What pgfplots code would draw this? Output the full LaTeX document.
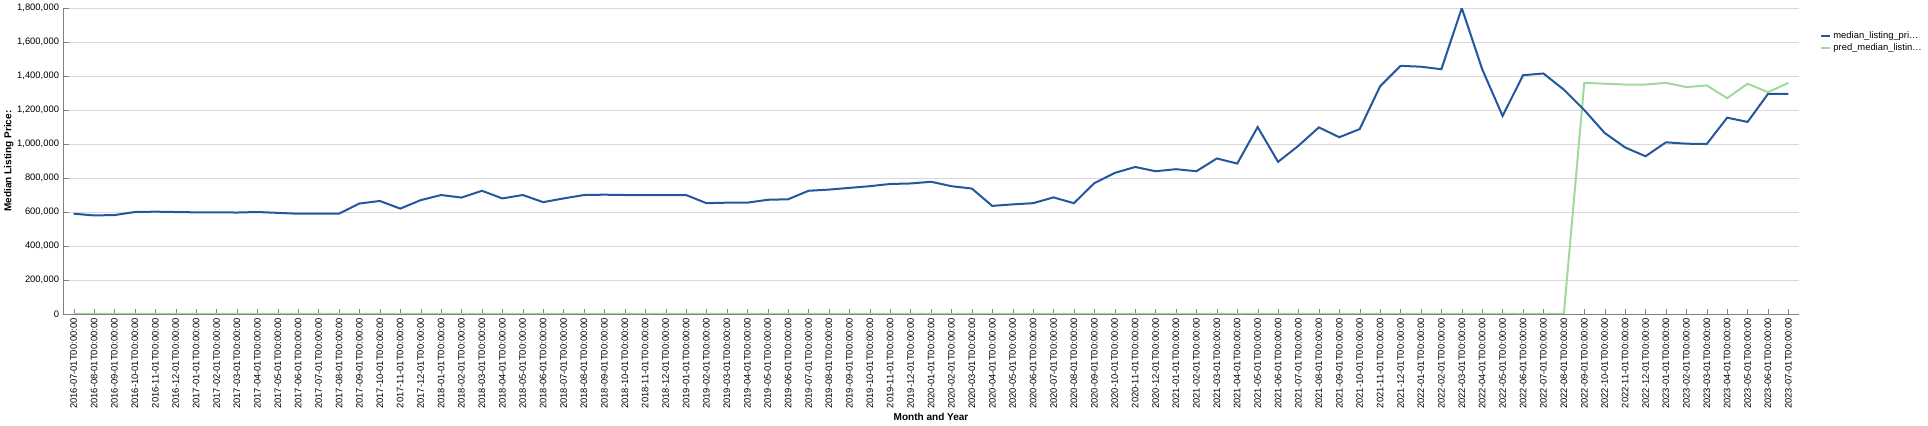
\documentclass[border=0pt]{standalone}
\usepackage{pgfplots}
\pgfplotsset{compat=1.18}
\usepackage{pgfplotstable}
\usepackage{fontspec}
\setmainfont{Liberation Sans}
\pgfplotstableread{
y
590000
580000
582000
600000
602000
600000
598000
598000
597000
600000
595000
590000
590000
590000
650000
665000
620000
670000
700000
685000
725000
680000
700000
658000
680000
700000
702000
700000
700000
700000
700000
652000
655000
655000
672000
675000
725000
732000
742000
752000
765000
768000
778000
752000
738000
636000
645000
652000
686000
652000
770000
830000
865000
840000
852000
840000
915000
885000
1100000
895000
990000
1098000
1040000
1088000
1340000
1460000
1455000
1440000
1800000
1440000
1165000
1405000
1415000
1320000
1200000
1065000
980000
928000
1010000
1002000
1000000
1155000
1130000
1295000
1295000
}\actual
\pgfplotstableread{
x y
0 0
73 0
74 1360000
75 1355000
76 1350000
77 1350000
78 1360000
79 1335000
80 1345000
81 1270000
82 1355000
83 1305000
84 1360000
}\pred
\definecolor{blueL}{HTML}{24579E}
\definecolor{greenL}{HTML}{A1D99B}
\def\L#1#2{#1-#2-01T00:00:00}
\begin{document}
\begin{tikzpicture}
\begin{axis}[
  width=1384pt, height=244pt, scale only axis,
  xmin=-0.5, xmax=84.5, ymin=0, ymax=1800000,
  xtick={0,...,84},
  xticklabels={\L{2016}{07},\L{2016}{08},\L{2016}{09},\L{2016}{10},\L{2016}{11},\L{2016}{12},
  \L{2017}{01},\L{2017}{02},\L{2017}{03},\L{2017}{04},\L{2017}{05},\L{2017}{06},\L{2017}{07},\L{2017}{08},\L{2017}{09},\L{2017}{10},\L{2017}{11},\L{2017}{12},
  \L{2018}{01},\L{2018}{02},\L{2018}{03},\L{2018}{04},\L{2018}{05},\L{2018}{06},\L{2018}{07},\L{2018}{08},\L{2018}{09},\L{2018}{10},\L{2018}{11},\L{2018}{12},
  \L{2019}{01},\L{2019}{02},\L{2019}{03},\L{2019}{04},\L{2019}{05},\L{2019}{06},\L{2019}{07},\L{2019}{08},\L{2019}{09},\L{2019}{10},\L{2019}{11},\L{2019}{12},
  \L{2020}{01},\L{2020}{02},\L{2020}{03},\L{2020}{04},\L{2020}{05},\L{2020}{06},\L{2020}{07},\L{2020}{08},\L{2020}{09},\L{2020}{10},\L{2020}{11},\L{2020}{12},
  \L{2021}{01},\L{2021}{02},\L{2021}{03},\L{2021}{04},\L{2021}{05},\L{2021}{06},\L{2021}{07},\L{2021}{08},\L{2021}{09},\L{2021}{10},\L{2021}{11},\L{2021}{12},
  \L{2022}{01},\L{2022}{02},\L{2022}{03},\L{2022}{04},\L{2022}{05},\L{2022}{06},\L{2022}{07},\L{2022}{08},\L{2022}{09},\L{2022}{10},\L{2022}{11},\L{2022}{12},
  \L{2023}{01},\L{2023}{02},\L{2023}{03},\L{2023}{04},\L{2023}{05},\L{2023}{06},\L{2023}{07}},
  xticklabel style={rotate=90, anchor=east, font=\fontsize{7.5}{8}\selectfont},
  ytick={0,200000,...,1800000},
  yticklabels={0,{200,000},{400,000},{600,000},{800,000},{1,000,000},{1,200,000},{1,400,000},{1,600,000},{1,800,000}},
  yticklabel style={font=\fontsize{7.5}{8}\selectfont},
  scaled y ticks=false,
  ymajorgrids, grid style={gray!30},
  axis x line*=bottom, axis y line*=left,
  axis line style={gray}, tick style={gray},
  xlabel={\bfseries Month and Year}, ylabel={\bfseries Median Listing Price:},
  label style={font=\fontsize{8}{9}\selectfont},
  xlabel style={yshift=3pt},
  ylabel style={yshift=-4pt},
  legend style={at={(1.01,0.94)}, anchor=north west, draw=none, font=\fontsize{7.5}{9}\selectfont, row sep=-1pt},
  legend cell align=left,
  reverse legend,
  legend image code/.code={\draw[#1] (0cm,0cm) -- (0.25cm,0cm);},
]
\addplot[greenL, line width=1.6pt] table[x=x,y=y]{\pred};
\addlegendentry{pred\_median\_listin…}
\addplot[blueL, line width=1.6pt] table[x expr=\coordindex, y=y]{\actual};
\addlegendentry{median\_listing\_pri…}
\node[anchor=north west, font=\bfseries\fontsize{8}{9}\selectfont] at (rel axis cs:1.01,1.0) {Key};
\end{axis}
\end{tikzpicture}
\end{document}
